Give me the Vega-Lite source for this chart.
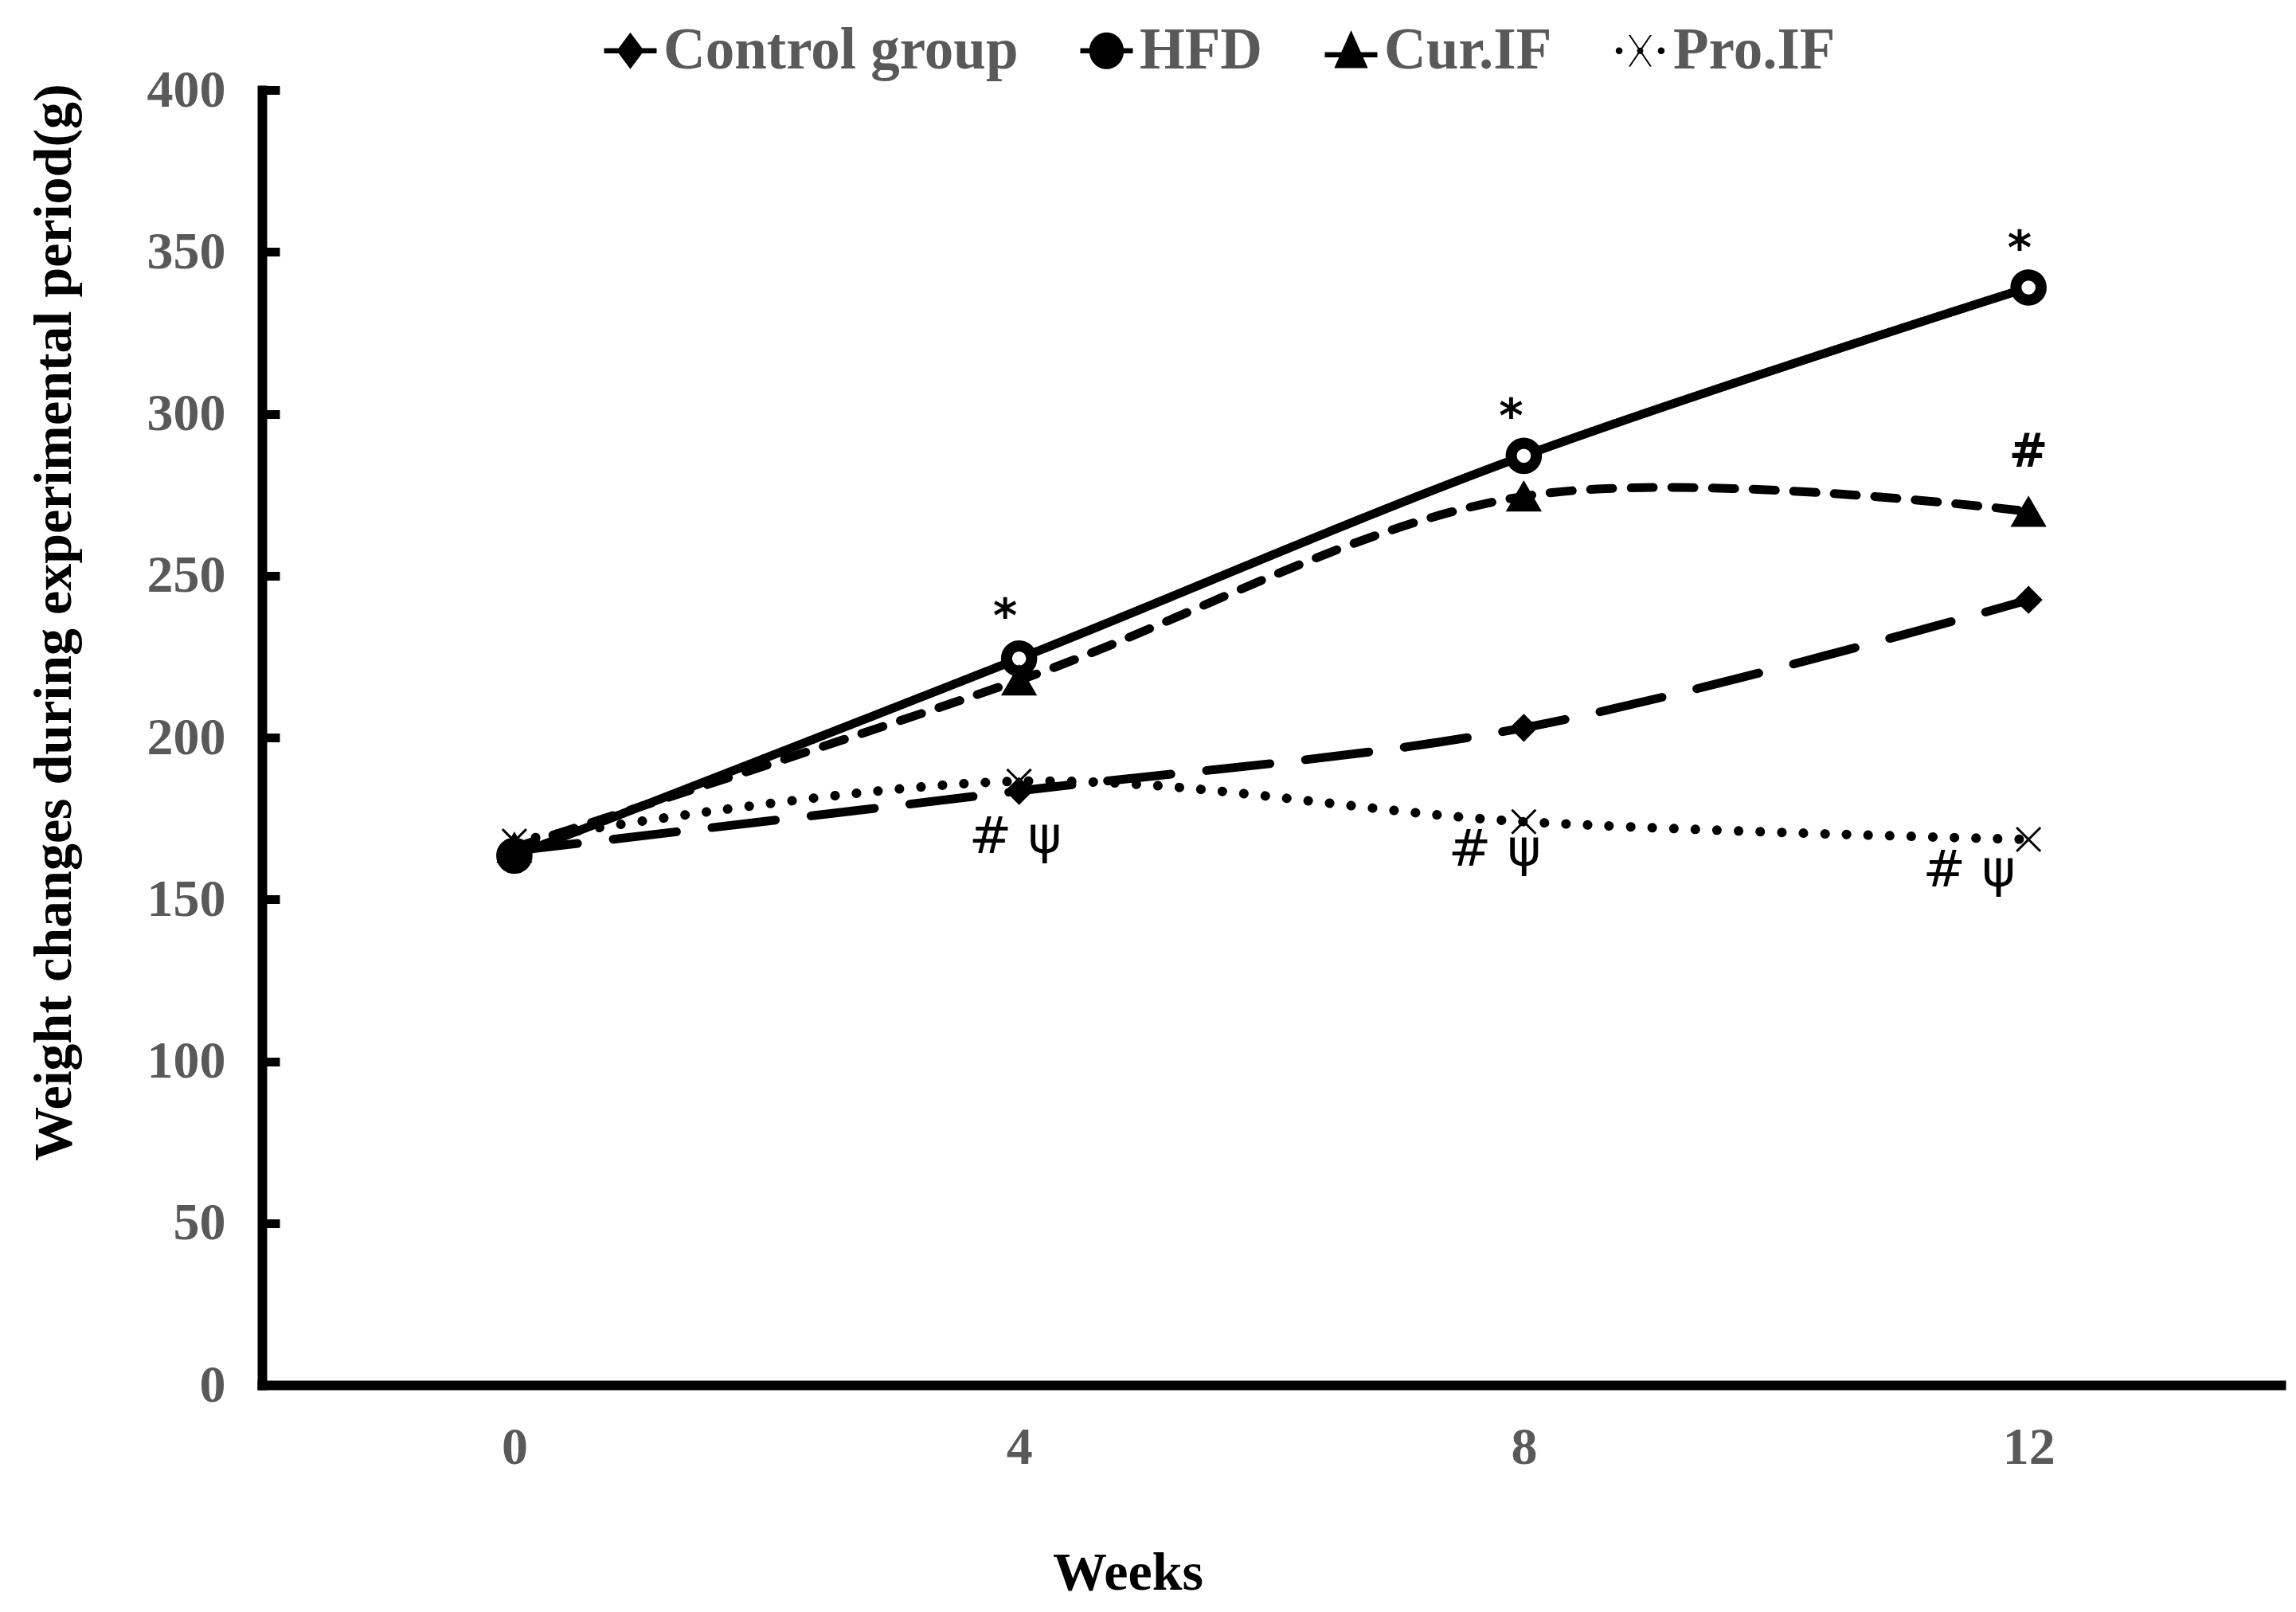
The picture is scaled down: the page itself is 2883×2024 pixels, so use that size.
{
  "$schema": "https://vega.github.io/schema/vega-lite/v6.json",
  "width": 2535,
  "height": 1626,
  "autosize": {"type": "none"},
  "padding": {"left": 329, "top": 113, "right": 19, "bottom": 285},
  "background": "white",
  "config": {"view": {"stroke": null}, "axis": {"grid": false}},
  "datasets": {
    "weights": [
      {"week": 0, "group": "Control group", "weight": 165},
      {"week": 4, "group": "Control group", "weight": 183.5},
      {"week": 8, "group": "Control group", "weight": 203},
      {"week": 12, "group": "Control group", "weight": 242.5},
      {"week": 0, "group": "HFD", "weight": 163.5},
      {"week": 4, "group": "HFD", "weight": 224.4},
      {"week": 8, "group": "HFD", "weight": 287},
      {"week": 12, "group": "HFD", "weight": 339},
      {"week": 0, "group": "Cur.IF", "weight": 166},
      {"week": 4, "group": "Cur.IF", "weight": 217.7},
      {"week": 8, "group": "Cur.IF", "weight": 274.5},
      {"week": 12, "group": "Cur.IF", "weight": 269.8},
      {"week": 0, "group": "Pro.IF", "weight": 168},
      {"week": 4, "group": "Pro.IF", "weight": 186.5},
      {"week": 8, "group": "Pro.IF", "weight": 174},
      {"week": 12, "group": "Pro.IF", "weight": 168.5}
    ],
    "notes": [
      {"week": 3.89, "weight": 236.8, "label": "*"},
      {"week": 7.9, "weight": 298.6, "label": "*"},
      {"week": 11.93, "weight": 350.5, "label": "*"},
      {"week": 12.0, "weight": 287.8, "label": "#"},
      {"week": 3.97, "weight": 169, "label": "# ψ"},
      {"week": 7.77, "weight": 165, "label": "# ψ"},
      {"week": 11.53, "weight": 158.6, "label": "# ψ"}
    ]
  },
  "encoding": {
    "x": {
      "field": "week",
      "type": "quantitative",
      "scale": {"domain": [-2, 14], "nice": false, "zero": false},
      "axis": {
        "title": "Weeks",
        "values": [0, 4, 8, 12],
        "ticks": false,
        "domainColor": "black",
        "domainWidth": 12,
        "domainCap": "square",
        "labelFont": "Liberation Serif",
        "labelFontWeight": "bold",
        "labelFontSize": 66,
        "labelColor": "#595959",
        "labelPadding": 46,
        "labelFlush": false,
        "titleFont": "Liberation Serif",
        "titleFontWeight": "bold",
        "titleFontSize": 68,
        "titleColor": "black",
        "titleX": 1087,
        "titleY": 256,
        "titleBaseline": "alphabetic",
        "titleAlign": "center"
      }
    },
    "y": {
      "field": "weight",
      "type": "quantitative",
      "scale": {"domain": [0, 400], "nice": false},
      "axis": {
        "title": "Weight changes during experimental period(g)",
        "values": [0, 50, 100, 150, 200, 250, 300, 350, 400],
        "tickSize": -22,
        "tickWidth": 11,
        "tickColor": "black",
        "domainColor": "black",
        "domainWidth": 12,
        "domainCap": "square",
        "labelFont": "Liberation Serif",
        "labelFontWeight": "bold",
        "labelFontSize": 66,
        "labelColor": "#595959",
        "labelPadding": 68,
        "labelFlush": false,
        "titleFont": "Liberation Serif",
        "titleFontWeight": "bold",
        "titleFontSize": 68,
        "titleColor": "black",
        "titleAngle": -90,
        "titleX": -241,
        "titleY": 668,
        "titleBaseline": "alphabetic",
        "titleAlign": "center"
      }
    }
  },
  "resolve": {"scale": {"shape": "independent"}, "legend": {"shape": "independent"}},
  "layer": [
    {
      "data": {"name": "weights"},
      "mark": {"type": "line", "interpolate": "catmull-rom", "strokeCap": "round", "color": "black"},
      "encoding": {
        "strokeDash": {
          "field": "group",
          "type": "nominal",
          "scale": {"domain": ["Control group", "HFD", "Cur.IF", "Pro.IF"], "range": [[80, 45], [1, 0], [28, 23], [0.1, 27]]},
          "legend": null
        },
        "strokeWidth": {"condition": {"test": "datum.group === 'Pro.IF'", "value": 12}, "value": 11}
      }
    },
    {
      "data": {"name": "weights"},
      "mark": {"type": "point", "filled": true, "opacity": 1},
      "encoding": {
        "shape": {
          "field": "group",
          "type": "nominal",
          "scale": {"domain": ["Control group", "HFD", "Cur.IF", "Pro.IF"], "range": ["diamond", "circle", "triangle-up", "M-1,-1L1,1M1,-1L-1,1"]},
          "legend": null
        },
        "size": {
          "condition": [
            {"test": "datum.group === 'Control group'", "value": 1050},
            {"test": "datum.group === 'HFD'", "value": 1000},
            {"test": "datum.group === 'Cur.IF'", "value": 1750}
          ],
          "value": 900
        },
        "fill": {"condition": {"test": "datum.group === 'HFD'", "value": "white"}, "value": "black"},
        "stroke": {"value": "black"},
        "strokeWidth": {
          "condition": [
            {"test": "datum.group === 'HFD'", "value": 14},
            {"test": "datum.group === 'Pro.IF'", "value": 3}
          ],
          "value": 2
        }
      }
    },
    {
      "data": {"name": "notes"},
      "transform": [{"filter": "datum.label !== '# ψ'"}],
      "mark": {"type": "text", "font": "DejaVu Sans", "fontWeight": "bold", "fontSize": 58, "color": "black", "baseline": "middle", "align": "center"},
      "encoding": {
        "text": {"field": "label", "type": "nominal"}
      }
    },
    {
      "data": {"name": "notes"},
      "transform": [{"filter": "datum.label === '# ψ'"}],
      "mark": {"type": "text", "font": "DejaVu Sans", "fontWeight": "normal", "fontSize": 64, "color": "black", "baseline": "middle", "align": "center"},
      "encoding": {
        "text": {"field": "label", "type": "nominal"}
      }
    },
    {
      "data": {"name": "weights"},
      "transform": [{"filter": "datum.week < 0"}],
      "mark": {"type": "point", "filled": true, "color": "black", "opacity": 1},
      "encoding": {
        "shape": {
          "field": "group",
          "type": "nominal",
          "scale": {
            "domain": ["Control group", "HFD", "Cur.IF", "Pro.IF"],
            "range": [
              "M-1,-0.1H1V0.1H-1Z M0,-0.7L0.52,0L0,0.7L-0.52,0Z",
              "M-1,-0.1H1V0.1H-1Z M-0.66,0A0.66,0.7,0,1,1,0.66,0A0.66,0.7,0,1,1,-0.66,0Z",
              "M-1,0.05H1V0.25H-1Z M0,-0.78L0.64,0.66L-0.64,0.66Z",
              "M-0.93,0A0.13,0.13,0,1,1,-0.67,0A0.13,0.13,0,1,1,-0.93,0Z M0.67,0A0.13,0.13,0,1,1,0.93,0A0.13,0.13,0,1,1,0.67,0Z M-0.44,-0.6L-0.37,-0.6L0.44,0.6L0.37,0.6Z M0.37,-0.6L0.44,-0.6L-0.37,0.6L-0.44,0.6Z M-0.12,0A0.12,0.12,0,1,1,0.12,0A0.12,0.12,0,1,1,-0.12,0Z"
            ]
          },
          "legend": {
            "orient": "none",
            "legendX": 426,
            "legendY": -86,
            "direction": "horizontal",
            "title": null,
            "labelFont": "Liberation Serif",
            "labelFontWeight": "bold",
            "labelFontSize": 73,
            "labelColor": "#595959",
            "labelLimit": 1000,
            "labelOffset": 5,
            "symbolSize": 4356,
            "symbolStrokeWidth": 0,
            "symbolFillColor": "black",
            "symbolOpacity": 1,
            "columnPadding": 74
          }
        }
      }
    }
  ]
}
